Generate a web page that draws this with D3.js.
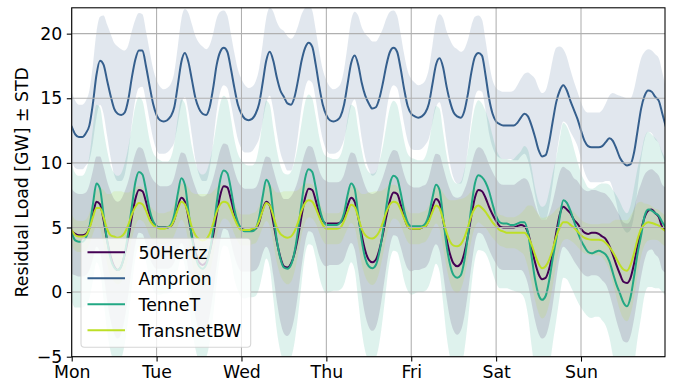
<!DOCTYPE html>
<html>
<head>
<meta charset="utf-8">
<script src="https://cdn.jsdelivr.net/npm/d3@7"></script>
<style>
  html, body { margin: 0; padding: 0; background: #fff; }
  svg { display: block; font-family: "DejaVu Sans", sans-serif; }
</style>
</head>
<body>
<svg id="chart" width="681" height="387"></svg>
<script>
// ---- data (hourly, Mon 00:00 .. following Mon 00:00) ----
const dayLabels = ["Mon", "Tue", "Wed", "Thu", "Fri", "Sat", "Sun"];
const dayTicks = [0, 24, 48, 72, 96, 120, 144];
const yTicks = [-5, 0, 5, 10, 15, 20];
const seriesNames = ["50Hertz", "Amprion", "TenneT", "TransnetBW"];

const hertz50 = [
  4.7,4.5,4.4,4.4,4.5,5.0,6.0,7.0,6.8,5.6,4.0,2.8,2.0,1.7,2.0,2.9,4.2,5.8,7.2,7.9,7.8,7.0,6.0,5.4,
  5.1,5.0,5.0,5.0,5.1,5.6,6.6,7.3,7.0,5.8,4.3,3.1,2.3,2.1,2.3,3.1,4.4,6.0,7.5,8.2,8.1,7.2,6.1,5.3,
  4.9,4.8,4.8,4.8,4.9,5.4,6.4,7.0,6.7,5.4,3.9,2.7,2.0,1.9,2.2,3.0,4.3,5.9,7.3,8.0,7.9,7.1,6.1,5.5,
  5.3,5.3,5.3,5.3,5.4,5.8,6.7,7.3,7.0,5.8,4.4,3.2,2.5,2.3,2.5,3.3,4.5,5.9,7.1,7.7,7.6,6.8,5.8,5.1,
  4.9,4.9,4.9,5.0,5.1,5.6,6.6,7.2,6.9,5.6,4.1,2.9,2.2,2.0,2.2,3.0,4.3,5.9,7.3,7.9,7.8,7.3,6.6,6.0,
  5.5,5.1,5.0,5.0,5.0,5.0,5.1,5.2,5.1,4.6,3.5,2.3,1.4,1.0,1.1,1.8,3.0,4.6,6.0,6.6,6.4,6.1,5.6,5.3,
  4.9,4.6,4.5,4.6,4.6,4.5,4.3,4.1,3.6,2.9,2.1,1.4,0.8,0.7,1.1,2.2,3.6,4.8,5.8,6.3,6.4,6.1,5.8,5.0,
  4.8
];
const amprion = [
  12.8,12.2,12.0,12.0,12.3,12.9,14.6,16.8,17.9,17.6,16.4,15.2,14.2,13.8,13.7,13.9,14.9,16.6,18.0,18.7,18.7,17.5,16.0,14.6,
  13.7,13.3,13.2,13.3,13.6,14.3,16.0,17.8,18.5,17.8,16.4,15.0,14.2,13.8,13.7,14.3,15.8,17.6,18.6,18.9,18.6,17.3,15.8,14.5,
  13.8,13.4,13.3,13.4,13.8,14.6,16.2,17.9,18.6,17.9,16.6,15.6,15.1,14.6,14.5,15.1,16.4,17.9,18.9,19.3,19.0,17.6,15.9,14.5,
  13.7,13.3,13.2,13.3,13.6,14.5,16.1,17.7,18.3,17.6,16.2,15.2,14.6,14.2,14.3,15.0,16.2,17.6,18.6,18.9,18.6,17.3,15.7,14.4,
  13.8,13.6,13.5,13.6,13.9,14.6,16.1,17.6,18.1,17.4,15.9,14.7,13.9,13.6,13.5,14.0,15.3,17.0,18.2,18.5,18.3,16.8,15.0,13.8,
  13.2,13.0,12.9,12.9,12.9,12.9,13.1,13.5,13.8,13.6,12.9,12.0,11.0,10.5,10.6,11.6,13.2,14.7,15.6,16.0,15.6,14.8,14.1,13.4,
  12.5,11.7,11.3,11.2,11.2,11.2,11.3,11.6,11.9,11.7,11.1,10.4,10.0,9.8,9.9,10.8,12.5,14.2,15.2,15.6,15.5,15.1,14.8,13.8,
  12.8
];
const tennet = [
  4.6,4.0,3.9,3.9,4.2,5.0,6.8,8.4,8.0,6.0,4.0,2.6,1.9,1.7,2.0,3.0,4.6,6.6,8.5,9.3,9.1,7.9,6.4,5.5,
  5.1,5.0,5.0,5.0,5.2,6.0,7.6,8.8,8.3,6.3,4.2,2.8,2.0,1.8,2.1,3.1,4.8,6.9,8.7,9.4,9.2,8.0,6.4,5.4,
  4.9,4.7,4.7,4.7,4.9,5.8,7.4,8.7,8.2,6.1,4.0,2.6,1.9,1.8,2.1,3.1,4.8,6.9,8.8,9.5,9.3,8.1,6.6,5.6,
  5.2,5.2,5.2,5.2,5.4,6.1,7.5,8.4,8.0,6.0,4.0,2.6,2.0,1.85,2.1,3.1,4.7,6.7,8.4,9.0,8.8,7.7,6.3,5.4,
  5.1,5.1,5.1,5.1,5.3,6.0,7.3,8.3,7.9,5.8,3.6,2.1,1.3,1.1,1.3,2.4,4.3,6.6,8.4,9.05,8.9,8.5,7.8,6.8,
  5.9,5.4,5.3,5.3,5.2,5.2,5.3,5.4,5.4,4.6,2.8,1.0,-0.2,-0.6,-0.3,0.9,2.6,4.1,5.8,7.1,6.9,6.3,5.5,4.7,
  4.0,3.5,3.1,3.0,3.1,3.2,3.1,2.9,2.4,1.5,0.6,-0.1,-0.8,-1.1,-0.4,1.2,3.0,4.4,5.9,6.4,6.3,6.1,5.9,5.4,
  5.0
];
const transnetbw = [
  4.8,4.4,4.3,4.3,4.4,4.9,5.8,6.5,6.5,5.8,4.9,4.4,4.3,4.2,4.3,4.6,5.2,6.0,6.6,6.9,6.8,6.3,5.6,5.2,
  5.0,4.9,4.9,5.0,5.1,5.6,6.4,7.0,6.8,6.0,5.0,4.4,4.1,4.0,4.1,4.5,5.3,6.2,6.8,7.0,6.9,6.4,5.7,5.1,
  4.8,4.8,4.8,4.9,5.0,5.5,6.3,6.9,6.7,5.9,5.0,4.5,4.3,4.2,4.3,4.7,5.4,6.3,6.9,7.1,7.0,6.5,5.8,5.2,
  4.9,4.9,4.9,4.9,5.0,5.5,6.2,6.75,6.6,5.8,4.9,4.4,4.2,4.15,4.3,4.7,5.4,6.2,6.8,7.0,6.9,6.4,5.7,5.1,
  4.9,4.9,4.9,5.0,5.1,5.5,6.2,6.7,6.5,5.6,4.6,3.9,3.6,3.55,3.7,4.2,5.0,5.9,6.5,6.7,6.5,6.2,5.8,5.4,
  5.1,4.8,4.7,4.6,4.6,4.6,4.6,4.6,4.6,4.3,3.7,2.9,2.2,1.85,2.0,2.5,3.3,4.3,5.0,5.4,5.4,5.2,5.0,4.7,
  4.4,4.2,4.1,4.05,4.05,4.05,4.0,3.8,3.5,3.1,2.6,2.1,1.75,1.65,2.1,3.0,4.1,4.9,5.25,5.4,5.35,5.25,5.15,4.9,
  4.7
];

// standard deviations (hourly)
const hertz50Std = [
  3.3,3.2,3.2,3.2,3.2,3.3,3.4,3.5,3.7,4.1,4.6,5.0,5.2,5.3,5.2,4.9,4.4,3.9,3.5,3.3,3.3,3.3,3.3,3.3,
  3.3,3.2,3.2,3.2,3.2,3.3,3.4,3.5,3.7,4.1,4.6,5.0,5.2,5.3,5.2,4.9,4.4,3.9,3.5,3.3,3.3,3.3,3.3,3.3,
  3.3,3.2,3.2,3.2,3.2,3.3,3.4,3.5,3.7,4.1,4.6,5.0,5.2,5.3,5.2,4.9,4.4,3.9,3.5,3.3,3.3,3.3,3.3,3.3,
  3.3,3.2,3.2,3.2,3.2,3.3,3.4,3.5,3.7,4.1,4.6,5.0,5.2,5.3,5.2,4.9,4.4,3.9,3.5,3.3,3.3,3.3,3.3,3.3,
  3.3,3.2,3.2,3.2,3.2,3.3,3.4,3.5,3.7,4.1,4.6,5.0,5.2,5.3,5.2,4.9,4.4,3.9,3.5,3.3,3.3,3.3,3.3,3.3,
  3.3,3.3,3.3,3.3,3.3,3.3,3.4,3.5,3.7,4.0,4.3,4.5,4.6,4.6,4.5,4.3,4.0,3.6,3.3,3.1,3.1,3.2,3.2,3.3,
  3.3,3.3,3.3,3.3,3.3,3.3,3.4,3.5,3.7,4.0,4.3,4.5,4.6,4.6,4.5,4.3,4.0,3.6,3.3,3.1,3.1,3.2,3.2,3.3,
  3.3
];
const amprionStd = [
  2.7,2.6,2.5,2.5,2.5,2.7,3.0,3.3,3.4,3.8,4.3,4.8,5.1,5.2,5.1,4.8,4.2,3.6,3.1,2.9,2.8,2.7,2.7,2.7,
  2.7,2.6,2.5,2.5,2.5,2.7,3.0,3.3,3.4,3.8,4.3,4.8,5.1,5.2,5.1,4.8,4.2,3.6,3.1,2.9,2.8,2.7,2.7,2.7,
  2.7,2.6,2.5,2.5,2.5,2.7,3.0,3.3,3.4,3.8,4.3,4.8,5.1,5.2,5.1,4.8,4.2,3.6,3.1,2.9,2.8,2.7,2.7,2.7,
  2.7,2.6,2.5,2.5,2.5,2.7,3.0,3.3,3.4,3.8,4.3,4.8,5.1,5.2,5.1,4.8,4.2,3.6,3.1,2.9,2.8,2.7,2.7,2.7,
  2.7,2.6,2.5,2.5,2.5,2.7,3.0,3.3,3.4,3.8,4.3,4.8,5.1,5.2,5.1,4.8,4.2,3.6,3.1,2.9,2.8,2.7,2.7,2.6,
  2.6,2.6,2.6,2.6,2.6,2.7,2.9,3.0,3.1,3.4,3.9,4.5,4.8,4.9,5.0,5.0,4.8,4.2,3.4,2.8,2.6,2.4,2.2,2.1,
  2.2,2.4,2.6,2.7,2.7,2.7,2.8,3.0,3.3,3.7,4.2,4.8,5.1,5.2,5.1,4.9,4.5,3.9,3.4,3.2,3.2,3.3,3.3,3.2,
  3.0
];
const tennetStd = [
  5.3,5.2,5.1,5.1,5.2,5.5,5.9,6.1,6.3,6.6,7.0,7.2,7.3,7.3,7.2,7.0,6.6,6.2,5.9,5.8,5.7,5.5,5.4,5.3,
  5.3,5.2,5.1,5.1,5.2,5.5,5.9,6.1,6.3,6.6,7.0,7.2,7.3,7.3,7.2,7.0,6.6,6.2,5.9,5.8,5.7,5.5,5.4,5.3,
  5.3,5.2,5.1,5.1,5.2,5.5,5.9,6.1,6.3,6.6,7.0,7.2,7.3,7.3,7.2,7.0,6.6,6.2,5.9,5.8,5.7,5.5,5.4,5.3,
  5.3,5.2,5.1,5.1,5.2,5.5,5.9,6.1,6.3,6.6,7.0,7.2,7.3,7.3,7.2,7.0,6.6,6.2,5.9,5.8,5.7,5.5,5.4,5.3,
  5.3,5.2,5.1,5.1,5.2,5.5,5.9,6.1,6.3,6.6,7.0,7.2,7.3,7.3,7.2,7.0,6.6,6.2,5.9,5.8,5.7,5.5,5.4,5.3,
  5.2,5.1,5.0,5.0,5.0,5.1,5.3,5.5,5.9,6.4,6.9,7.1,7.2,7.2,7.1,6.9,6.6,6.3,6.1,6.0,5.9,5.8,5.6,5.4,
  5.2,5.1,5.0,5.0,5.0,5.1,5.3,5.5,5.9,6.4,6.9,7.1,7.2,7.2,7.1,6.9,6.6,6.3,6.1,6.0,5.9,5.8,5.6,5.4,
  5.3
];
const transnetbwStd = [
  1.2,1.2,1.2,1.2,1.2,1.2,1.3,1.4,1.6,2.1,2.7,3.2,3.5,3.6,3.5,3.1,2.5,1.9,1.5,1.3,1.3,1.2,1.2,1.2,
  1.2,1.2,1.2,1.2,1.2,1.2,1.3,1.4,1.6,2.1,2.7,3.2,3.5,3.6,3.5,3.1,2.5,1.9,1.5,1.3,1.3,1.2,1.2,1.2,
  1.2,1.2,1.2,1.2,1.2,1.2,1.3,1.4,1.6,2.1,2.7,3.2,3.5,3.6,3.5,3.1,2.5,1.9,1.5,1.3,1.3,1.2,1.2,1.2,
  1.2,1.2,1.2,1.2,1.2,1.2,1.3,1.4,1.6,2.1,2.7,3.2,3.5,3.6,3.5,3.1,2.5,1.9,1.5,1.3,1.3,1.2,1.2,1.2,
  1.2,1.2,1.2,1.2,1.2,1.2,1.3,1.4,1.6,2.1,2.7,3.2,3.5,3.6,3.5,3.1,2.5,1.9,1.5,1.3,1.3,1.2,1.2,1.2,
  1.2,1.2,1.2,1.2,1.2,1.2,1.3,1.5,1.8,2.4,3.0,3.5,3.8,3.9,3.8,3.4,2.8,2.1,1.6,1.4,1.3,1.2,1.2,1.2,
  1.2,1.2,1.2,1.2,1.2,1.2,1.3,1.5,1.8,2.4,3.0,3.5,3.8,3.9,3.8,3.4,2.8,2.1,1.6,1.4,1.3,1.2,1.2,1.2,
  1.2
];

const seriesColors = ["#440154", "#355f8d", "#22a884", "#bddf26"];

// ---- layout ----
const W = 681, H = 387;
const plot = { left: 71.7, right: 665, top: 7.8, bottom: 356.7 };
const svg = d3.select("#chart");

const x = d3.scaleLinear().domain([0, 167.75]).range([plot.left, plot.right]);
const y = d3.scaleLinear().domain([-5, 22]).range([plot.bottom, plot.top]);

const series = [
  { name: seriesNames[0], mean: hertz50, std: hertz50Std, color: seriesColors[0] },
  { name: seriesNames[1], mean: amprion, std: amprionStd, color: seriesColors[1] },
  { name: seriesNames[2], mean: tennet, std: tennetStd, color: seriesColors[2] },
  { name: seriesNames[3], mean: transnetbw, std: transnetbwStd, color: seriesColors[3] }
];

svg.append("defs").append("clipPath").attr("id", "clip")
  .append("rect")
  .attr("x", plot.left).attr("y", plot.top)
  .attr("width", plot.right - plot.left).attr("height", plot.bottom - plot.top);

const gPlot = svg.append("g").attr("clip-path", "url(#clip)");

// bands
const curve = d3.curveMonotoneX;
series.forEach(s => {
  const area = d3.area()
    .x((d, i) => x(i))
    .y0((d, i) => y(s.mean[i] - s.std[i]))
    .y1((d, i) => y(s.mean[i] + s.std[i]))
    .curve(curve);
  gPlot.append("path")
    .attr("d", area(s.mean))
    .attr("fill", s.color)
    .attr("fill-opacity", 0.15)
    .attr("stroke", "none");
});

// grid
const gGrid = svg.append("g");
dayTicks.forEach(t => {
  gGrid.append("line")
    .attr("x1", x(t)).attr("x2", x(t))
    .attr("y1", plot.top).attr("y2", plot.bottom)
    .attr("stroke", "#b0b0b0").attr("stroke-width", 1.07);
});
yTicks.forEach(t => {
  gGrid.append("line")
    .attr("x1", plot.left).attr("x2", plot.right)
    .attr("y1", y(t)).attr("y2", y(t))
    .attr("stroke", "#b0b0b0").attr("stroke-width", 1.07);
});

// lines
series.forEach(s => {
  const line = d3.line()
    .x((d, i) => x(i))
    .y(d => y(d))
    .curve(curve);
  gPlot.append("path")
    .attr("d", line(s.mean))
    .attr("fill", "none")
    .attr("stroke", s.color)
    .attr("stroke-width", 2)
    .attr("stroke-linejoin", "round")
    .attr("stroke-linecap", "square");
});

// axes
const fontSize = 17.33;
const xAxis = d3.axisBottom(x).tickValues(dayTicks)
  .tickFormat((d, i) => dayLabels[i]).tickSize(4.9).tickPadding(4.5);
const gx = svg.append("g").attr("transform", `translate(0,${plot.bottom})`).call(xAxis);
const yAxis = d3.axisLeft(y).tickValues(yTicks)
  .tickFormat(d => (d < 0 ? "\u2212" + Math.abs(d) : String(d))).tickSize(4.9).tickPadding(4.5);
const gy = svg.append("g").attr("transform", `translate(${plot.left},0)`).call(yAxis);
[gx, gy].forEach(g => {
  g.select(".domain").remove();
  g.selectAll(".tick line").attr("stroke", "#000").attr("stroke-width", 1.07);
  g.selectAll(".tick text").attr("fill", "#000")
    .attr("font-size", fontSize).attr("font-family", "DejaVu Sans");
});

// spines
svg.append("rect")
  .attr("x", plot.left).attr("y", plot.top)
  .attr("width", plot.right - plot.left).attr("height", plot.bottom - plot.top)
  .attr("fill", "none").attr("stroke", "#000").attr("stroke-width", 1.07);

// y label
svg.append("text")
  .attr("transform", `translate(27.5,${(plot.top + plot.bottom) / 2}) rotate(-90)`)
  .attr("text-anchor", "middle")
  .attr("font-size", fontSize)
  .attr("fill", "#000")
  .text("Residual Load [GW] \u00b1 STD");

// legend
const leg = svg.append("g");
leg.append("rect")
  .attr("x", 81).attr("y", 238.3).attr("width", 169.7).attr("height", 109)
  .attr("rx", 3.5).attr("ry", 3.5)
  .attr("fill", "#fff").attr("fill-opacity", 0.8)
  .attr("stroke", "#cccccc").attr("stroke-opacity", 0.8).attr("stroke-width", 1.07);
series.forEach((s, i) => {
  const cy = 252.3 + i * 26;
  leg.append("line")
    .attr("x1", 87.5).attr("x2", 125).attr("y1", cy).attr("y2", cy)
    .attr("stroke", s.color).attr("stroke-width", 2);
  leg.append("text")
    .attr("x", 138.5).attr("y", cy + 6.3)
    .attr("font-size", fontSize).attr("fill", "#000")
    .text(s.name);
});
</script>
</body>
</html>
